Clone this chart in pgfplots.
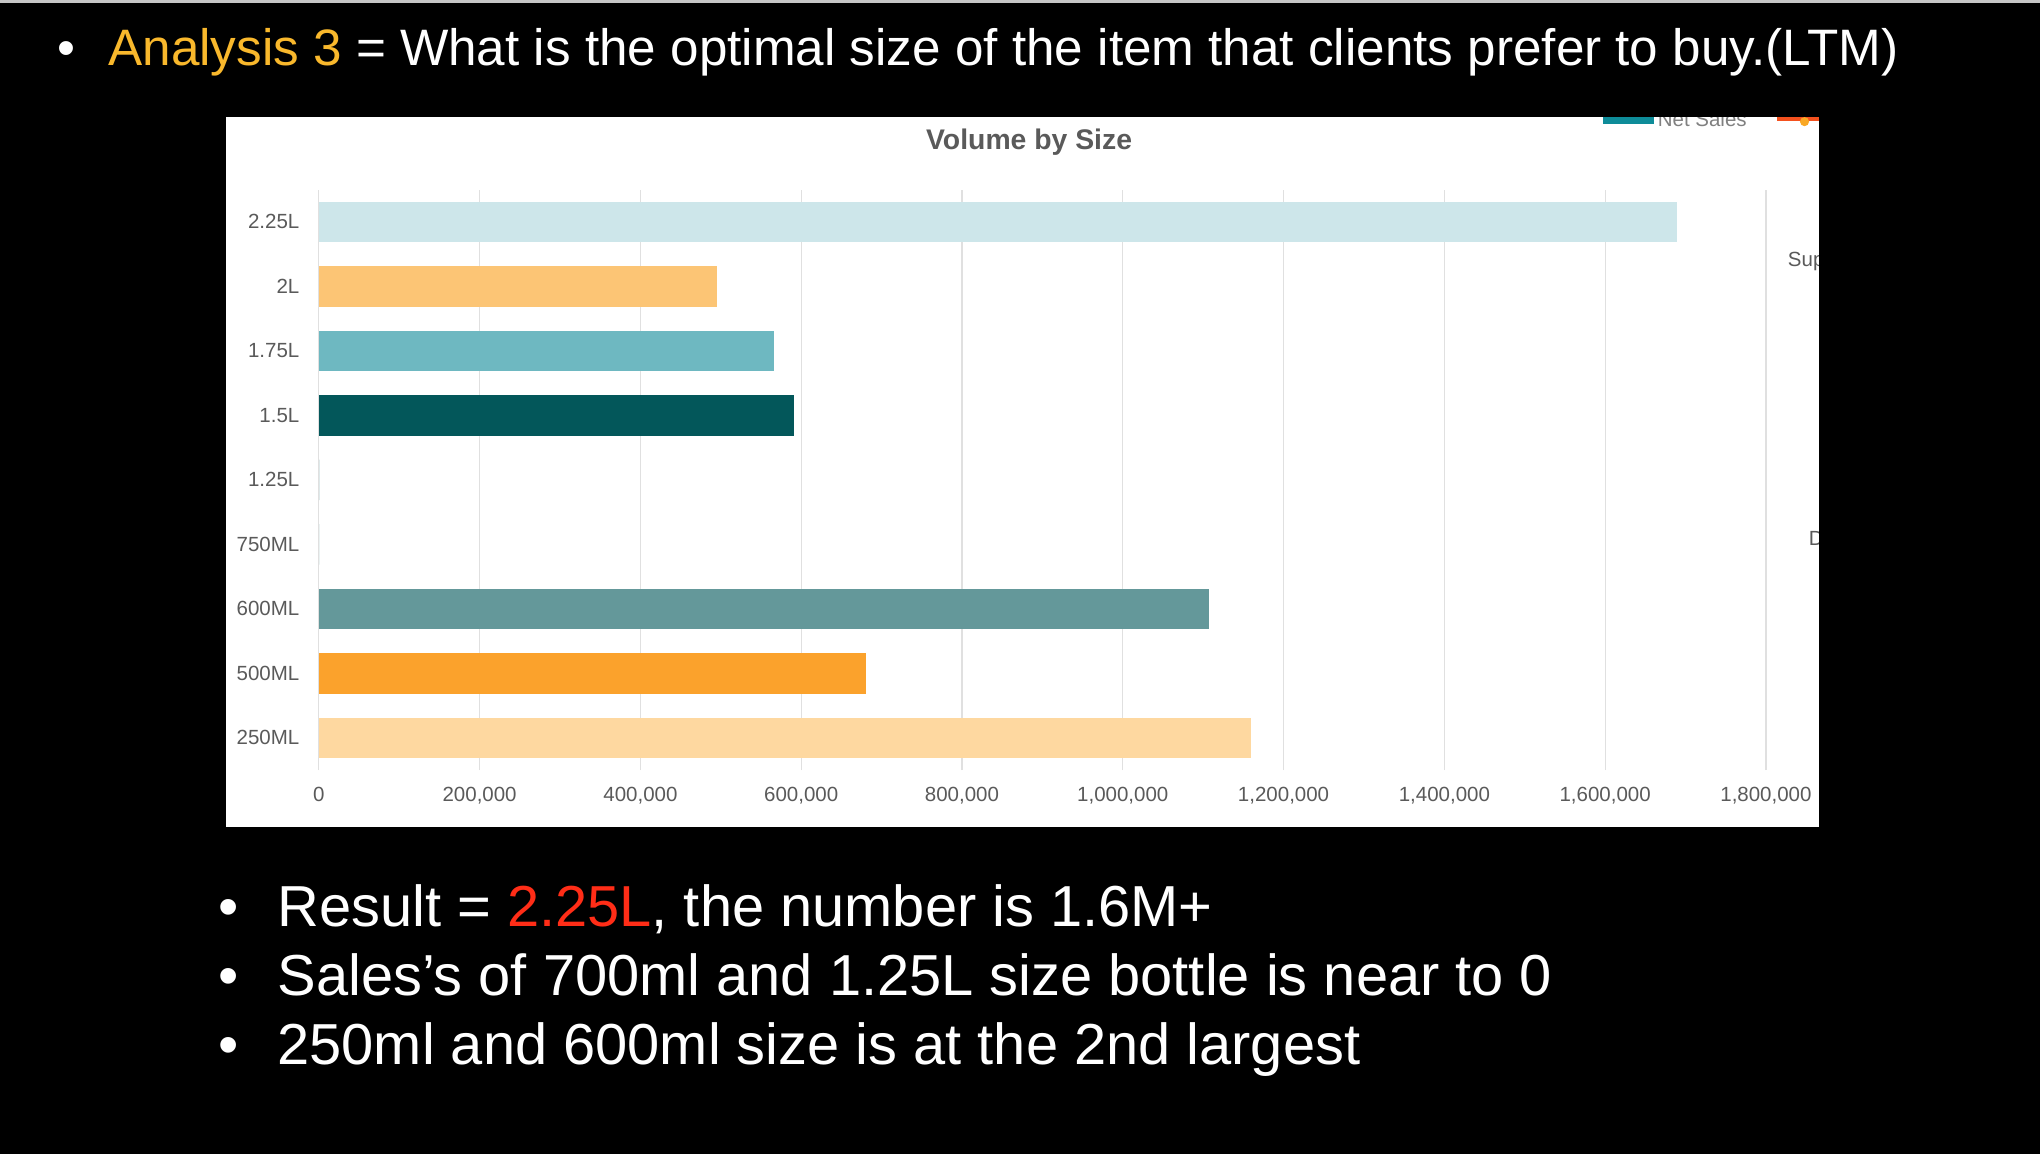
\documentclass[border=0pt]{standalone}
\usepackage{fontspec}
\setmainfont{Liberation Sans}
\usepackage{pgfplots}
\pgfplotsset{compat=1.18}
\definecolor{analysisor}{HTML}{F9B82C}
\definecolor{resred}{HTML}{FF2D17}
\definecolor{cA}{HTML}{CDE6EA}
\definecolor{cB}{HTML}{FCC575}
\definecolor{cC}{HTML}{6EB8C1}
\definecolor{cD}{HTML}{03575A}
\definecolor{cE}{HTML}{64989A}
\definecolor{cF}{HTML}{FBA22C}
\definecolor{cG}{HTML}{FED8A0}
\definecolor{gridgray}{HTML}{E0E0E0}
\definecolor{labelgray}{HTML}{5A5A5A}
\definecolor{legteal}{HTML}{0E8C99}
\definecolor{legred}{HTML}{F4511E}
\definecolor{legmark}{HTML}{F9A825}
\begin{document}
\begin{tikzpicture}[x=0.025cm,y=0.025cm]
% slide background and chart panel
\fill[black] (0,0) rectangle (1568,887);
\fill[gray!45] (0,885) rectangle (1568,887);
\fill[white] (174,251) rectangle (1398,797);

% slide text
\node[anchor=base west,inner sep=0,text=white,font=\fontsize{28}{32}\selectfont] at (44,837) {•};
\node[anchor=base west,inner sep=0,text=white,font=\fontsize{28}{32}\selectfont] at (83,837)
  {\textcolor{analysisor}{Analysis 3} = What is the optimal size of the item that clients prefer to buy.(LTM)};
\foreach \yy/\txt in {175/{Result = \textcolor{resred}{2.25L}, the number is 1.6M+},
                      122/{Sales’s of 700ml and 1.25L size bottle is near to 0},
                      69/{250ml and 600ml size is at the 2nd largest}} {
  \node[anchor=base west,inner sep=0,text=white,font=\fontsize{31.6}{36}\selectfont] at (168,\yy) {•};
  \node[anchor=base west,inner sep=0,text=white,font=\fontsize{31.6}{36}\selectfont] at (213,\yy) {\txt};
}

% chart title
\node[anchor=base,inner sep=0,text=labelgray,font=\bfseries\fontsize{15.5}{18}\selectfont] at (791,772) {Volume by Size};

% legend and labels of the neighbouring chart, cut by the panel edge
\begin{scope}
\clip (174,251) rectangle (1398,797);
\fill[legteal] (1232,791.5) rectangle (1271,803);
\node[anchor=base west,inner sep=0,text=gray,font=\fontsize{11.2}{13}\selectfont] at (1274,789.6) {Net Sales};
\draw[legred,line width=0.15cm] (1366,797) -- (1412,797);
\fill[legmark] (1387,793.5) circle (3.5);
\node[anchor=west,inner sep=0,text=labelgray,font=\fontsize{11.2}{13}\selectfont] at (1374,686) {Supplier};
\node[anchor=west,inner sep=0,text=labelgray,font=\fontsize{11.2}{13}\selectfont] at (1390,473.4) {Distributor};
\end{scope}

\begin{axis}[
  at={(6.125cm,7.375cm)},anchor=south west,
  scale only axis,width=27.8cm,height=11.15cm,
  xbar,
  every axis plot/.append style={bar shift=0pt,bar width=0.775cm,draw=none},
  xmin=0,xmax=1800000,ymin=-0.5,ymax=8.5,
  ytick={0,1,2,3,4,5,6,7,8},
  yticklabels={250ML,500ML,600ML,750ML,1.25L,1.5L,1.75L,2L,2.25L},
  xtick={0,200000,400000,600000,800000,1000000,1200000,1400000,1600000,1800000},
  scaled x ticks=false,
  /pgf/number format/.cd,fixed,1000 sep={,},assume math mode=true,
  /pgfplots/.cd,
  axis line style={draw=none},
  major tick length=0pt,
  xmajorgrids,
  grid style={draw=gridgray,line width=0.7pt},
  tick label style={font=\fontsize{11.2}{13}\selectfont,text=labelgray},
  xticklabel style={yshift=-0.2cm},
  yticklabel style={xshift=-0.25cm},
  clip=false
]
\addplot[fill=cG] coordinates {(1160000,0)};
\addplot[fill=cF] coordinates {(681000,1)};
\addplot[fill=cE] coordinates {(1107000,2)};
\addplot[fill=cE] coordinates {(0,3)};
\addplot[fill=cD] coordinates {(0,4)};
\addplot[fill=cD] coordinates {(591000,5)};
\addplot[fill=cC] coordinates {(566000,6)};
\addplot[fill=cB] coordinates {(495000,7)};
\addplot[fill=cA] coordinates {(1689000,8)};
\end{axis}
\end{tikzpicture}
\end{document}
